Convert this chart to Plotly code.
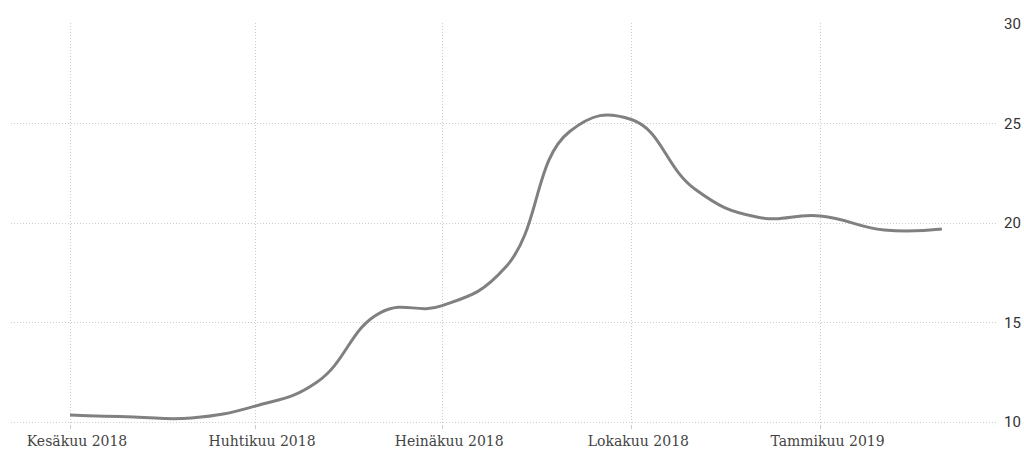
import plotly.graph_objects as go

# Monthly readings, January 2018 – March 2019
months = [
    "2018-01-01", "2018-02-01", "2018-03-01", "2018-04-01", "2018-05-01",
    "2018-06-01", "2018-07-01", "2018-08-01", "2018-09-01", "2018-10-01",
    "2018-11-01", "2018-12-01", "2019-01-01", "2019-02-01", "2019-03-01",
]
values = [10.35, 10.25, 10.2, 10.8, 12.0, 15.5, 15.85, 17.8, 24.6, 25.2,
          21.7, 20.3, 20.35, 19.65, 19.7]

# Axis labels
x_tick_dates = ["2018-01-01", "2018-04-01", "2018-07-01", "2018-10-01", "2019-01-01"]
x_tick_labels = ["Kesäkuu 2018", "Huhtikuu 2018", "Heinäkuu 2018",
                 "Lokakuu 2018", "Tammikuu 2019"]
y_ticks = [10, 15, 20, 25, 30]

fig = go.Figure(
    go.Scatter(
        x=months,
        y=values,
        mode="lines",
        line=dict(color="#808080", width=3, shape="spline", smoothing=1.3),
        hoverinfo="x+y",
    )
)

grid_color = "#cccccc"

fig.update_layout(
    width=1024,
    height=450,
    margin=dict(l=11, r=26, t=23, b=26),
    paper_bgcolor="white",
    plot_bgcolor="white",
    showlegend=False,
    xaxis=dict(
        type="date",
        range=["2017-12-03 07:00", "2019-03-28 07:00"],
        tickmode="array",
        tickvals=x_tick_dates,
        ticktext=x_tick_labels,
        showgrid=True,
        gridcolor=grid_color,
        griddash="1px,2px",
        gridwidth=1,
        ticks="outside",
        ticklen=4,
        tickcolor=grid_color,
        tickwidth=1,
        ticklabelshift=7,
        showline=False,
        zeroline=False,
        automargin=False,
        tickfont=dict(family="DejaVu Serif", size=14, color="#444444"),
    ),
    yaxis=dict(
        side="right",
        range=[9.9, 30.05],
        tickmode="array",
        tickvals=y_ticks,
        showgrid=True,
        gridcolor=grid_color,
        griddash="1px,2px",
        gridwidth=1,
        ticks="",
        ticklabelstandoff=5,
        showline=False,
        zeroline=False,
        automargin=False,
        tickfont=dict(family="Roboto", size=15, color="#333333"),
    ),
)

fig.write_html("out.html")
